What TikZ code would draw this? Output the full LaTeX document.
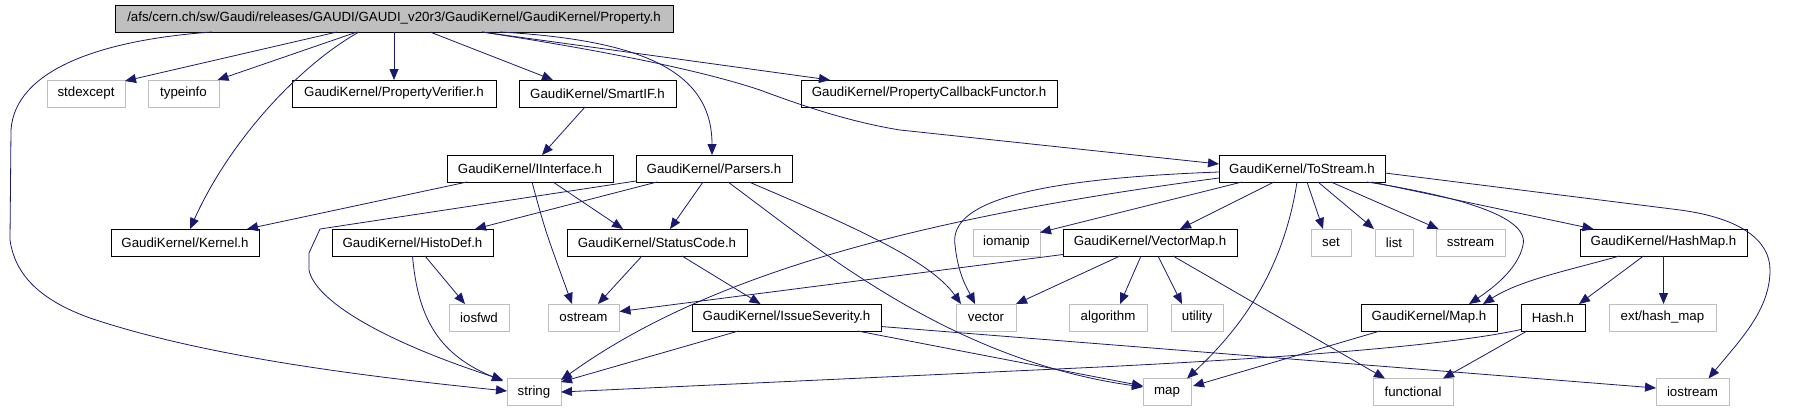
\documentclass[tikz,border=0pt]{standalone}
\usepackage{fontspec}
\setmainfont{Liberation Sans}
\usetikzlibrary{arrows.meta,calc}
\definecolor{edgeblue}{HTML}{191970}
\definecolor{sysgray}{HTML}{BFBFBF}
\begin{document}
\begin{tikzpicture}[x=1pt,y=-1pt,
  font=\fontsize{13.3}{15}\selectfont,
  box/.style={draw=black, fill=white, line width=0.9pt, minimum height=27pt, inner sep=0pt, text=black},
  sysbox/.style={box, draw=sysgray},
  rootbox/.style={box, fill=sysgray},
  edge/.style={draw=edgeblue, line width=0.8pt, -{Triangle[length=11pt,width=9pt]}}]
\useasboundingbox (0,0) rectangle (1798,410);
% nodes
\node[rootbox, minimum width=558pt] (root) at (394,18.5) {/afs/cern.ch/sw/Gaudi/releases/GAUDI/GAUDI\_v20r3/GaudiKernel/GaudiKernel/Property.h};
\node[sysbox, minimum width=78pt] (stdexcept) at (86,93.5) {stdexcept};
\node[sysbox, minimum width=71pt] (typeinfo) at (183.5,93.5) {typeinfo};
\node[box, minimum width=204pt] (pverif) at (394,93.5) {GaudiKernel/PropertyVerifier.h};
\node[box, minimum width=157pt] (smartif) at (597.5,93.5) {GaudiKernel/SmartIF.h};
\node[box, minimum width=256pt] (pcf) at (929,93.5) {GaudiKernel/PropertyCallbackFunctor.h};
\node[box, minimum width=166pt] (iinterface) at (530,168.5) {GaudiKernel/IInterface.h};
\node[box, minimum width=156pt] (parsers) at (714,168.5) {GaudiKernel/Parsers.h};
\node[box, minimum width=166pt] (tostream) at (1302,168.5) {GaudiKernel/ToStream.h};
\node[box, minimum width=148pt] (kernel) at (185,242.5) {GaudiKernel/Kernel.h};
\node[box, minimum width=161pt] (histodef) at (412.5,242.5) {GaudiKernel/HistoDef.h};
\node[box, minimum width=180pt] (statuscode) at (657,242.5) {GaudiKernel/StatusCode.h};
\node[sysbox, minimum width=67pt] (iomanip) at (1006.5,242.5) {iomanip};
\node[box, minimum width=174pt] (vectormap) at (1150,242.5) {GaudiKernel/VectorMap.h};
\node[sysbox, minimum width=40pt] (set) at (1331,242.5) {set};
\node[sysbox, minimum width=38pt] (list) at (1394,242.5) {list};
\node[sysbox, minimum width=69pt] (sstream) at (1470.5,242.5) {sstream};
\node[box, minimum width=167pt] (hashmap) at (1663.5,242.5) {GaudiKernel/HashMap.h};
\node[sysbox, minimum width=60pt] (iosfwd) at (479,317.5) {iosfwd};
\node[sysbox, minimum width=71pt] (ostream) at (583.5,317.5) {ostream};
\node[box, minimum width=189pt] (issue) at (786.5,317.5) {GaudiKernel/IssueSeverity.h};
\node[sysbox, minimum width=60pt] (vector) at (986,317.5) {vector};
\node[sysbox, minimum width=78pt] (algorithm) at (1108,317.5) {algorithm};
\node[sysbox, minimum width=52pt] (utility) at (1197,317.5) {utility};
\node[box, minimum width=136pt] (maph) at (1429,317.5) {GaudiKernel/Map.h};
\node[box, minimum width=64pt] (hashh) at (1553,317.5) {Hash.h};
\node[sysbox, minimum width=107pt] (exthash) at (1662.5,317.5) {ext/hash\_map};
\node[sysbox, minimum width=54pt] (string) at (534,392) {string};
\node[sysbox, minimum width=48pt] (map) at (1167,392) {map};
\node[sysbox, minimum width=80pt] (functional) at (1413,392) {functional};
\node[sysbox, minimum width=73pt] (iostream) at (1692.5,392) {iostream};
% edges from root
\draw[edge] ($(root)+(-182,13.5)$) .. controls (100,40) and (15,70) .. (11,130) -- (10,240) .. controls (15,275) and (40,300) .. (90,318) .. controls (200,355) and (350,375) .. ($(string)+(-27,-1)$);
\draw[edge] ($(root)+(-57,13.5)$) -- ($(stdexcept)+(39,-12.5)$);
\draw[edge] ($(root)+(-37,13.5)$) -- ($(typeinfo)+(34,-13.5)$);
\draw[edge] ($(root)+(-35,13.5)$) .. controls (300,65) and (230,140) .. ($(kernel)+(5,-13.5)$);
\draw[edge] ($(root)+(0,13.5)$) -- ($(pverif)+(0,-13.5)$);
\draw[edge] ($(root)+(36,13.5)$) -- ($(smartif)+(-44.5,-13.5)$);
\draw[edge] ($(root)+(88,13.5)$) -- ($(pcf)+(-99,-13.5)$);
\draw[edge] ($(root)+(106,13.5)$) .. controls (640,40) and (712,70) .. ($(parsers)+(-2,-13.5)$);
\draw[edge] ($(root)+(88,13.5)$) .. controls (600,50) and (700,70) .. (760,90) .. controls (800,105) and (850,122) .. (900,130) -- ($(tostream)+(-83,-4.5)$);
% second level
\draw[edge] ($(smartif)+(-12.5,13.5)$) -- ($(iinterface)+(12,-13.5)$);
\draw[edge] ($(iinterface)+(-63,13.5)$) -- ($(kernel)+(62,-13.5)$);
\draw[edge] ($(iinterface)+(2,13.5)$) .. controls (545,230) .. ($(ostream)+(-11.5,-13.5)$);
\draw[edge] ($(iinterface)+(23,13.5)$) -- ($(statuscode)+(-34,-13.5)$);
\draw[edge] ($(parsers)+(-78,12.5)$) -- (320,229) -- (309,253) -- (309,270) .. controls (315,300) and (380,340) .. ($(string)+(-31,-12)$);
\draw[edge] ($(parsers)+(-57,13.5)$) -- ($(histodef)+(62.5,-13.5)$);
\draw[edge] ($(parsers)+(-11,13.5)$) -- ($(statuscode)+(13,-13.5)$);
\draw[edge] ($(parsers)+(35,13.5)$) .. controls (850,225) and (930,260) .. ($(vector)+(-25,-13.5)$);
\draw[edge] ($(parsers)+(14,13.5)$) .. controls (820,250) and (950,360) .. ($(map)+(-24,-5)$);
% ToStream
\draw[edge] ($(tostream)+(-83,9.5)$) .. controls (900,220) and (700,280) .. ($(string)+(27,-12)$);
\draw[edge] ($(tostream)+(-83,3.5)$) .. controls (1000,180) and (950,210) .. (955,245) .. controls (958,275) and (968,290) .. ($(vector)+(-11,-13.5)$);
\draw[edge] ($(tostream)+(-60,13.5)$) -- ($(iomanip)+(33.5,-10)$);
\draw[edge] ($(tostream)+(-28,13.5)$) -- ($(vectormap)+(30,-13.5)$);
\draw[edge] ($(tostream)+(-5,13.5)$) .. controls (1285,260) and (1250,320) .. ($(map)+(20,-13.5)$);
\draw[edge] ($(tostream)+(5,13.5)$) -- ($(set)+(-8,-13.5)$);
\draw[edge] ($(tostream)+(16,13.5)$) -- ($(list)+(-20,-13.5)$);
\draw[edge] ($(tostream)+(29,13.5)$) -- ($(sstream)+(-32,-13.5)$);
\draw[edge] ($(tostream)+(65,13.5)$) .. controls (1450,195) and (1530,215) .. (1523,245) .. controls (1518,270) and (1490,290) .. ($(maph)+(40,-13.5)$);
\draw[edge] ($(tostream)+(70,13.5)$) -- ($(hashmap)+(-70,-13.5)$);
\draw[edge] ($(tostream)+(83,4.5)$) -- (1680,210) .. controls (1740,218) and (1770,240) .. (1770,270) .. controls (1770,310) and (1740,340) .. ($(iostream)+(16,-13.5)$);
% HistoDef, StatusCode, IssueSeverity
\draw[edge] ($(histodef)+(12.5,13.5)$) -- ($(iosfwd)+(-14,-13.5)$);
\draw[edge] ($(histodef)+(0,13.5)$) .. controls (418,320) and (440,355) .. ($(string)+(-31,-11)$);
\draw[edge] ($(statuscode)+(-15,13.5)$) -- ($(ostream)+(14.5,-13.5)$);
\draw[edge] ($(statuscode)+(25,13.5)$) -- ($(issue)+(-26,-13.5)$);
\draw[edge] ($(issue)+(-48,13.5)$) -- ($(string)+(27,-10)$);
\draw[edge] ($(issue)+(94.5,9)$) -- ($(iostream)+(-36.5,-4)$);
\draw[edge] ($(issue)+(71,13.5)$) -- ($(map)+(-24,-6)$);
% VectorMap
\draw[edge] ($(vectormap)+(-87,12)$) -- ($(ostream)+(36,-6)$);
\draw[edge] ($(vectormap)+(-30,13.5)$) -- ($(vector)+(30,-13.5)$);
\draw[edge] ($(vectormap)+(-9,13.5)$) -- ($(algorithm)+(12,-13.5)$);
\draw[edge] ($(vectormap)+(8,13.5)$) -- ($(utility)+(-15,-13.5)$);
\draw[edge] ($(vectormap)+(23,13.5)$) -- ($(functional)+(-28,-13.5)$);
% HashMap
\draw[edge] ($(hashmap)+(-44,13.5)$) .. controls (1570,270) and (1520,280) .. ($(maph)+(54,-13.5)$);
\draw[edge] ($(hashmap)+(-20,13.5)$) -- ($(hashh)+(26,-13.5)$);
\draw[edge] ($(hashmap)+(0,13.5)$) -- ($(exthash)+(1,-13.5)$);
% Map.h, Hash.h
\draw[edge] ($(maph)+(-49,13.5)$) -- ($(map)+(26,-6)$);
\draw[edge] ($(hashh)+(-32,12)$) .. controls (1450,345) and (1300,357) .. (1100,367) -- ($(string)+(27,0)$);
\draw[edge] ($(hashh)+(-26,13.5)$) -- ($(functional)+(30,-13.5)$);
\end{tikzpicture}
\end{document}
